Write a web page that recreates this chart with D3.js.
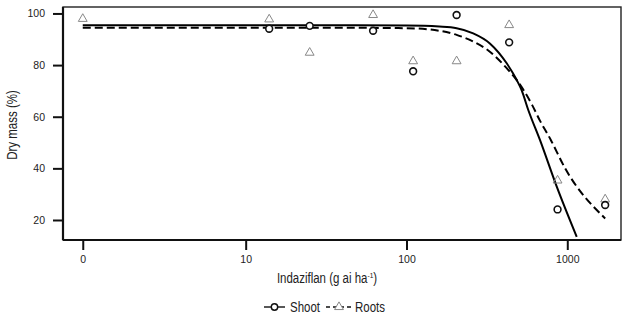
<!DOCTYPE html>
<html>
<head>
<meta charset="utf-8">
<script src="https://cdn.jsdelivr.net/npm/d3@7"></script>
<style>
  html, body { margin: 0; padding: 0; background: #fff; }
  svg { display: block; }
  text { font-family: "Liberation Sans", Arial, Helvetica, sans-serif; fill: #222; }
</style>
</head>
<body>
<svg id="chart" width="625" height="317"></svg>
<script>
// ---- data ----
const ZERO_POS = 0.97;           // where dose 0 is drawn on the log axis
const doses        = [0, 14, 25, 62, 110, 205, 435, 870, 1720];
const shootValues  = [null, 94.1, 95.2, 93.3, 77.6, 99.4, 88.8, 24.1, 25.8];
const rootsValues  = [98.3, 98.1, 85.2, 99.8, 81.9, 81.9, 95.9, 35.7, 28.4];

// fitted curves (dose, value)
const shootCurveDose  = [0, 30, 100, 160, 205, 260, 330, 420, 485, 520, 572, 676, 860, 1144];
const shootCurveValue = [95.4, 95.4, 95.3, 94.9, 94.3, 92.3, 88.4, 80.7, 74.2, 70.3, 62.6, 51.0, 32.9, 13.5];
const rootsCurveDose  = [0, 30, 100, 160, 205, 260, 330, 420, 485, 605, 676, 790, 960, 1720];
const rootsCurveValue = [94.5, 94.5, 94.3, 93.3, 91.7, 89.1, 85.2, 78.8, 74.2, 64.5, 58.5, 51.0, 40.5, 20.6];

const yTicks = [20, 40, 60, 80, 100];
const xTicks = [0, 10, 100, 1000];
const xTickLabels = ["0", "10", "100", "1000"];
const legendLabels = ["Shoot", "Roots"];
const xTitle = "Indaziflan (g ai ha";
const xTitleSup = "-1";
const yTitle = "Dry mass (%)";

// ---- layout ----
const svg = d3.select("#chart");
const L = 63, R = 621, T = 7, B = 240;
const NARROW = 0.82;
const dpos = d => (d === 0 ? ZERO_POS : d);

const x = d3.scaleLog().domain([0.731, 2158]).range([L, R]);
const y = d3.scaleLinear().domain([12.25, 102.5]).range([B, T]);

function narrowText(px, py, size, anchor, rot) {
  return svg.append("text")
    .attr("transform", `translate(${px},${py})${rot ? ` rotate(${rot})` : ""} scale(${NARROW},1)`)
    .attr("text-anchor", anchor).attr("font-size", size);
}

// frame (thin) and axes (thick)
svg.append("rect").attr("x", L).attr("y", T).attr("width", R - L).attr("height", B - T)
  .attr("fill", "none").attr("stroke", "#222").attr("stroke-width", 1.4);

// y axis
const yAxis = d3.axisLeft(y).tickValues(yTicks).tickSize(10).tickPadding(8).tickFormat(d3.format("d"));
const gy = svg.append("g").attr("transform", `translate(${L},0)`).call(yAxis);
gy.select(".domain").attr("d", `M0,${T}V${B}`).attr("stroke", "#111").attr("stroke-width", 2.2);
gy.selectAll(".tick line").attr("stroke", "#111").attr("stroke-width", 2);
gy.selectAll(".tick text").attr("fill", "#222")
  .style("font-family", '"Liberation Sans", Arial, sans-serif').attr("font-size", 10.5);

// x axis
const xAxis = d3.axisBottom(x).tickValues(xTicks.map(dpos)).tickSize(10).tickPadding(6)
  .tickFormat((d, i) => xTickLabels[i]);
const gx = svg.append("g").attr("transform", `translate(0,${B})`).call(xAxis);
gx.select(".domain").attr("d", `M${L},0H${R}`).attr("stroke", "#111").attr("stroke-width", 2.2);
gx.selectAll(".tick line").attr("stroke", "#111").attr("stroke-width", 2);
gx.selectAll(".tick text").attr("fill", "#222")
  .style("font-family", '"Liberation Sans", Arial, sans-serif').attr("font-size", 10.5);

// titles
const xt = narrowText(327, 283, 14, "middle");
xt.append("tspan").text(xTitle);
xt.append("tspan").attr("font-size", 8).attr("dy", -5).text(xTitleSup);
xt.append("tspan").attr("dy", 5).text(")");

narrowText(16.5, 125, 14, "middle", -90).text(yTitle);

// curves
const line = d3.line().x(d => x(dpos(d[0]))).y(d => y(d[1])).curve(d3.curveMonotoneX);
const plot = svg.append("g");
plot.append("path").datum(d3.zip(shootCurveDose, shootCurveValue))
  .attr("d", line).attr("fill", "none").attr("stroke", "#000").attr("stroke-width", 2);
plot.append("path").datum(d3.zip(rootsCurveDose, rootsCurveValue))
  .attr("d", line).attr("fill", "none").attr("stroke", "#000").attr("stroke-width", 2)
  .attr("stroke-dasharray", "8,4");

// points
const tri = d3.symbol().type(d3.symbolTriangle).size(34);
const rootsPts = doses.map((d, i) => [d, rootsValues[i]]).filter(p => p[1] != null);
const shootPts = doses.map((d, i) => [d, shootValues[i]]).filter(p => p[1] != null);
plot.selectAll("path.tri").data(rootsPts).enter().append("path").attr("class", "tri")
  .attr("d", tri).attr("transform", d => `translate(${x(dpos(d[0]))},${y(d[1]) + 1})`)
  .attr("fill", "none").attr("stroke", "#888").attr("stroke-width", 1);
plot.selectAll("circle.pt").data(shootPts).enter().append("circle").attr("class", "pt")
  .attr("cx", d => x(dpos(d[0]))).attr("cy", d => y(d[1])).attr("r", 3.4)
  .attr("fill", "#fff").attr("stroke", "#111").attr("stroke-width", 1.6);

// legend
const ly = 307;
svg.append("line").attr("x1", 264).attr("x2", 285).attr("y1", ly).attr("y2", ly).attr("stroke", "#111").attr("stroke-width", 1.4);
svg.append("circle").attr("cx", 274.5).attr("cy", ly).attr("r", 3.2).attr("fill", "#fff").attr("stroke", "#111").attr("stroke-width", 1.4);
narrowText(290, 311.7, 14, "start").text(legendLabels[0]);
svg.append("line").attr("x1", 326).attr("x2", 352).attr("y1", ly).attr("y2", ly).attr("stroke", "#111").attr("stroke-width", 1.4).attr("stroke-dasharray", "4,3");
svg.append("path").attr("d", tri).attr("transform", `translate(339,${ly})`).attr("fill", "#fff").attr("stroke", "#888").attr("stroke-width", 1);
narrowText(355, 311.7, 14, "start").text(legendLabels[1]);
</script>
</body>
</html>
